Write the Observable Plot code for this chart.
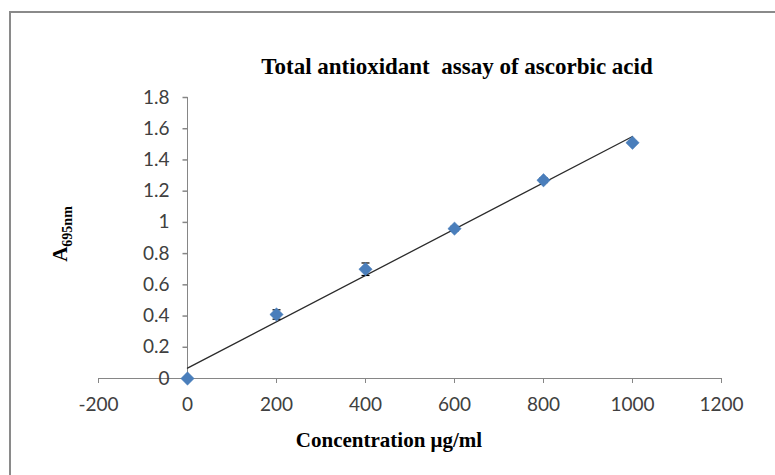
<!DOCTYPE html>
<html>
<head>
<meta charset="utf-8">
<script src="https://cdn.jsdelivr.net/npm/d3@7"></script>
<script src="https://cdn.jsdelivr.net/npm/@observablehq/plot@0.6"></script>
<style>
  html, body { margin: 0; padding: 0; background: #fff; }
  #wrap { position: relative; width: 775px; height: 475px; overflow: hidden; background: #fff; }
  #frame { position: absolute; left: 9px; top: 11px; width: 900px; height: 600px;
           border-top: 2px solid #8a8a8a; border-left: 2px solid #8a8a8a; }
  #title { position: absolute; left: 457px; top: 67px; transform: translate(-50%, -50%);
           font: bold 23px "Liberation Serif", "Times New Roman", serif; color: #000; white-space: pre; }
  #chart { position: absolute; left: 0; top: 80px; }
  #xtitle { position: absolute; left: 389px; top: 440px; transform: translate(-50%, -50%);
            font: bold 21px "Liberation Serif", "Times New Roman", serif; color: #000; white-space: nowrap; }
  #ytitle { position: absolute; left: 62px; top: 234px; transform: translate(-50%, -50%) rotate(-90deg);
            font: bold 21px "Liberation Serif", "Times New Roman", serif; color: #000; white-space: nowrap; }
  #ytitle sub { font-size: 14px; }
</style>
</head>
<body>
<div id="wrap">
  <div id="frame"></div>
  <div id="title">Total antioxidant  assay of ascorbic acid</div>
  <div id="chart"></div>
  <div id="ytitle">A<sub>695nm</sub></div>
  <div id="xtitle">Concentration μg/ml</div>
</div>
<script>
// Data
const concentration = [0, 200, 400, 600, 800, 1000];
const absorbance = [0, 0.41, 0.70, 0.96, 1.27, 1.51];
const errorBar = [0.005, 0.03, 0.04, 0.015, 0.015, 0.01];
const xTicks = [-200, 0, 200, 400, 600, 800, 1000, 1200];
const xTickLabels = ["-200", "0", "200", "400", "600", "800", "1000", "1200"];
const yTicks = [0, 0.2, 0.4, 0.6, 0.8, 1, 1.2, 1.4, 1.6, 1.8];
const yTickLabels = ["0", "0.2", "0.4", "0.6", "0.8", "1", "1.2", "1.4", "1.6", "1.8"];

const data = concentration.map((c, i) => ({x: c, y: absorbance[i], e: errorBar[i]}));
const yTickData = yTicks.map((v, i) => ({v, label: yTickLabels[i]}));

const axisGray = "#868686";
const labelColor = "#404040";
const markerBlue = "#4a7ebb";

// custom symbols: a left-pointing tick and a horizontal error-bar cap
const leftTick = { draw(ctx) { ctx.moveTo(-5, 0); ctx.lineTo(0, 0); } };
const cap = { draw(ctx) { ctx.moveTo(-4, 0); ctx.lineTo(4, 0); } };

const chart = Plot.plot({
  width: 775,
  height: 345,
  marginLeft: 98,
  marginRight: 54,
  marginTop: 17,
  marginBottom: 47,
  style: { fontFamily: "Lato, 'Open Sans', sans-serif", fontSize: "19px", color: labelColor, background: "transparent" },
  x: { domain: [-200, 1200] },
  y: { domain: [0, 1.8], axis: null },
  marks: [
    // x axis
    Plot.ruleY([0], { stroke: axisGray, strokeWidth: 1 }),
    Plot.axisX({ ticks: xTicks, tickFormat: (d) => xTickLabels[xTicks.indexOf(d)], tickSize: 5, tickPadding: 14,
                 stroke: axisGray, fill: labelColor, fontSize: 19, label: null }),
    // y axis at x = 0
    Plot.ruleX([0], { stroke: axisGray, strokeWidth: 1 }),
    Plot.dot(yTickData, { x: () => 0, y: "v", symbol: leftTick, stroke: axisGray, fill: "none", r: 4 }),
    Plot.text(yTickData, { x: () => 0, y: "v", text: "label", textAnchor: "end", dx: -18, fill: labelColor, fontSize: 19 }),
    // linear trendline
    Plot.linearRegressionY(data, { x: "x", y: "y", ci: 0, stroke: "#2b2b2b", strokeWidth: 1.3 }),
    // error bars
    Plot.link(data, { x1: "x", x2: "x", y1: (d) => d.y - d.e, y2: (d) => d.y + d.e, stroke: "#000", strokeWidth: 1.2 }),
    Plot.dot(data, { x: "x", y: (d) => d.y + d.e, symbol: cap, stroke: "#000", fill: "none", r: 4, strokeWidth: 1.2 }),
    Plot.dot(data, { x: "x", y: (d) => d.y - d.e, symbol: cap, stroke: "#000", fill: "none", r: 4, strokeWidth: 1.2 }),
    // markers
    Plot.dot(data, { x: "x", y: "y", symbol: "diamond2", r: 6, fill: markerBlue, stroke: markerBlue, strokeWidth: 0.5 })
  ]
});
document.getElementById("chart").appendChild(chart);
</script>
</body>
</html>
